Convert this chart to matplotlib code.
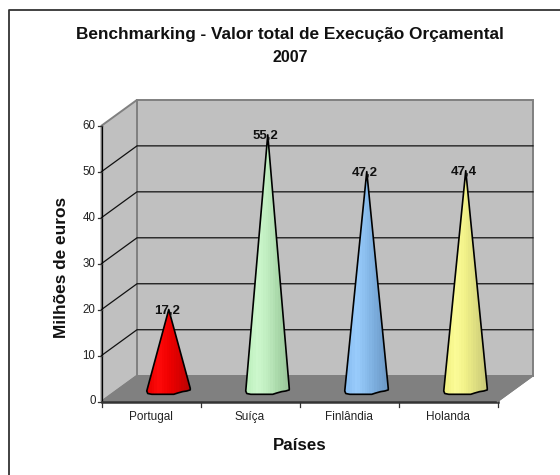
import numpy as np
import matplotlib
matplotlib.use("Agg")
import matplotlib.pyplot as plt
from matplotlib.patches import Polygon
from matplotlib.colors import LinearSegmentedColormap

plt.rcParams['font.family'] = ['Liberation Sans', 'DejaVu Sans']

# data
paises = ["Portugal", "Suíça", "Finlândia", "Holanda"]
valores = [17.2, 55.2, 47.2, 47.4]
rotulos = ["17,2", "55,2", "47,2", "47,4"]
yticks = [0, 10, 20, 30, 40, 50, 60]
cores = [
    ["#e80000", "#ff0a0a", "#f00000", "#d80000", "#b80404"],
    ["#bdf0bd", "#cdf8cd", "#bfecbf", "#a9d8a9", "#98c498"],
    ["#86bcf0", "#9accfc", "#88bcec", "#78a8d8", "#6c98c4"],
    ["#f0f080", "#fcfc98", "#f0f088", "#dcdc80", "#c8c878"],
]

# geometria do grafico, em pixels da imagem
x0, x1 = 101.5, 497.5
y0, ytop = 401.5, 125.7
dx, dy = 35.5, 25.8
escala = (y0 - ytop) / 60.0
prof = 0.5   # cones ficam a meio da profundidade

fig = plt.figure(figsize=(5.6, 4.75), dpi=100)
ax = fig.add_axes([0, 0, 1, 1])
ax.axis("off")

# moldura: so em cima e a esquerda
ax.plot([8.5, 8.5, 560], [475, 10, 10], color="#333333", lw=1.3)

def fy(v):
    return y0 - v * escala

parede = "#c0c0c0"
borda = "#808080"
# parede de tras, parede lateral, chao
ax.add_patch(Polygon([(x0 + dx, fy(60) - dy), (x1 + dx, fy(60) - dy), (x1 + dx, y0 - dy), (x0 + dx, y0 - dy)],
                     fc=parede, ec=borda, lw=1.4, zorder=1))
ax.add_patch(Polygon([(x0, fy(60)), (x0 + dx, fy(60) - dy), (x0 + dx, y0 - dy), (x0, y0)],
                     fc=parede, ec=borda, lw=1.4, zorder=1))
ax.add_patch(Polygon([(x0, y0), (x0 + dx, y0 - dy), (x1 + dx, y0 - dy), (x1, y0)],
                     fc="#808080", ec="#808080", lw=1, zorder=1))

# grelha
for t in yticks[1:-1]:
    ax.plot([x0, x0 + dx, x1 + dx], [fy(t), fy(t) - dy, fy(t) - dy], color="#111111", lw=0.9, zorder=2)

# eixos
ax.plot([x0, x0], [fy(60), y0], color="black", lw=0.9, zorder=3)
ax.plot([x0, x1], [y0, y0], color="#333333", lw=1.8, zorder=3)
for t in yticks:
    ax.plot([x0 - 4, x0], [fy(t), fy(t)], color="#333333", lw=0.9, zorder=3)
    ax.text(x0 - 6, fy(t), str(t), ha="right", va="center", fontsize=8.3, color="#222222")
larg = (x1 - x0) / len(paises)
for i in range(len(paises) + 1):
    ax.plot([x0 + i * larg] * 2, [y0, y0 + 5], color="#333333", lw=0.9, zorder=3)
ax.plot([x1, x1 + dx], [y0, y0 - dy], color="#808080", lw=1, zorder=3)

# contorno da base do cone, relativo ao centro da base
base = [(21.5, -0.3), (21.5, 1.3), (18, 2.4), (14, 3), (9, 4.4), (5, 5.7), (-17, 5.7), (-21, 4.9), (-22, 2.4)]

# cones
for i, (v, nome, rot) in enumerate(zip(valores, paises, rotulos)):
    xc = x0 + (i + 0.5) * larg + dx * prof
    yb = y0 - dy * prof
    apex = (xc, yb - v * escala)
    verts = [apex] + [(xc + a, yb + b) for a, b in base]
    cmap = LinearSegmentedColormap.from_list("c%d" % i, cores[i])
    grad = np.linspace(0, 1, 18).reshape(1, -1)
    im = ax.imshow(grad, extent=(xc - 22, xc + 22, yb + 6, apex[1]), cmap=cmap, aspect="auto",
                   interpolation="nearest", zorder=5)
    clip = Polygon(verts, transform=ax.transData, fc="none", ec="none")
    ax.add_patch(clip)
    im.set_clip_path(clip)
    ax.add_patch(Polygon(verts, fc="none", ec="black", lw=1.2, joinstyle="round", zorder=6))
    ax.text(xc - 2, apex[1] + 1, rot, ha="center", va="center", fontsize=9.5, fontweight="bold", color="#111111", zorder=7)
    ax.text(x0 + (i + 0.5) * larg, y0 + 15.5, nome, ha="center", va="center", fontsize=8.5, color="#222222")

ax.set_xlim(0, 560)
ax.set_ylim(475, 0)

# titulos
ax.text(290, 34, "Benchmarking - Valor total de Execução Orçamental", ha="center", va="center",
        fontsize=12.4, fontweight="bold", color="#111111")
ax.text(290, 57, "2007", ha="center", va="center", fontsize=11.5, fontweight="bold", color="#111111")
ax.text(300, 445, "Países", ha="center", va="center", fontsize=12.2, fontweight="bold", color="#111111")
ax.text(62, 267, "Milhões de euros", ha="center", va="center", rotation=90, fontsize=12.4, fontweight="bold", color="#111111")

fig.savefig("out.png", dpi=100)
